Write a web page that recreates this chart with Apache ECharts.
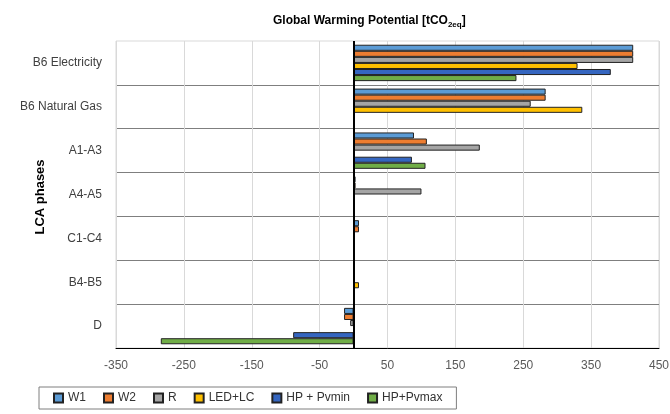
<!DOCTYPE html>
<html>
<head>
<meta charset="utf-8">
<script src="https://cdn.jsdelivr.net/npm/echarts@6/dist/echarts.min.js"></script>
<style>html,body{margin:0;padding:0;background:#fff;}#c{width:670px;height:414px;}</style>
</head>
<body>
<div id="c"></div>
<script>
const categories = ['B6 Electricity', 'B6 Natural Gas', 'A1-A3', 'A4-A5', 'C1-C4', 'B4-B5', 'D'];
const seriesNames = ['W1', 'W2', 'R', 'LED+LC', 'HP + Pvmin', 'HP+Pvmax'];
const W1 = [412, 283, 89, 3, 8, 0, -14];
const W2 = [412, 283, 108, 3, 8, 0, -14];
const R = [412, 261, 186, 100, 0, 0, -5];
const LED_LC = [330, 337, 0, 0, 0, 8, 0];
const HP_Pvmin = [379, 0, 86, 0, 0, 0, -89];
const HP_Pvmax = [240, 0, 106, 0, 0, 0, -284];
const xTicks = [-350, 450, 100];
const yAxisTitle = 'LCA phases';
const colors = ['#5B9BD5', '#ED7D31', '#A5A5A5', '#FFC000', '#3566C0', '#70AD47'];
const values = [W1, W2, R, LED_LC, HP_Pvmin, HP_Pvmax];

const FONT = 'Liberation Sans, Arial, sans-serif';
const chart = echarts.init(document.getElementById('c'));
const series = values.map((v, i) => {
  const s = {
    name: seriesNames[i],
    type: 'bar',
    data: v,
    barGap: '0%',
    barCategoryGap: '17%',
    itemStyle: { color: colors[i], borderColor: '#222', borderWidth: 1 }
  };
  if (i === 0) {
    s.markLine = {
      silent: true, symbol: 'none', animation: false,
      label: { show: false },
      lineStyle: { color: '#000', width: 2, type: 'solid' },
      data: [{ xAxis: 0 }]
    };
  }
  return s;
});

chart.setOption({
  animation: false,
  textStyle: { fontFamily: FONT },
  title: {
    text: '{a|Global Warming Potential [tCO}{s|2eq}{a|]}',
    left: 268, top: 7,
    textStyle: {
      rich: {
        a: { fontFamily: FONT, fontSize: 12, fontWeight: 'bold', color: '#000', lineHeight: 18, verticalAlign: 'middle' },
        s: { fontFamily: FONT, fontSize: 8, fontWeight: 'bold', color: '#000', padding: [8, 0, 0, 0] }
      }
    }
  },
  graphic: [{
    type: 'text',
    x: 40, y: 197,
    rotation: Math.PI / 2,
    silent: true,
    style: { text: yAxisTitle, font: 'bold 13px ' + FONT, fill: '#000', align: 'center', verticalAlign: 'middle' }
  }],
  legend: {
    left: 39, top: 387,
    data: seriesNames,
    icon: 'rect',
    itemWidth: 9, itemHeight: 9, itemGap: 17,
    borderColor: '#7f7f7f', borderWidth: 1,
    padding: [5, 14, 5, 14],
    textStyle: { fontFamily: FONT, fontSize: 12, color: '#333' }
  },
  grid: { left: 116, right: 11, top: 41, bottom: 66, show: true, borderColor: '#d9d9d9', borderWidth: 1, outerBoundsMode: 'none', containLabel: false },
  xAxis: {
    type: 'value',
    min: xTicks[0], max: xTicks[1], interval: xTicks[2],
    axisLine: { show: true, onZero: false, lineStyle: { color: '#000', width: 1 } },
    axisTick: { show: false },
    axisLabel: { color: '#595959', fontSize: 12, margin: 12, fontFamily: FONT },
    splitLine: { show: true, lineStyle: { color: '#d9d9d9', width: 1 } }
  },
  yAxis: {
    type: 'category',
    data: categories,
    inverse: true,
    axisLine: { show: false },
    axisTick: { show: false },
    axisLabel: { color: '#404040', fontSize: 12, margin: 14, fontFamily: FONT },
    splitLine: { show: true, interval: function (index) { return index !== 0; }, lineStyle: { color: '#7f7f7f', width: 1 } }
  },
  series: series
});
</script>
</body>
</html>
